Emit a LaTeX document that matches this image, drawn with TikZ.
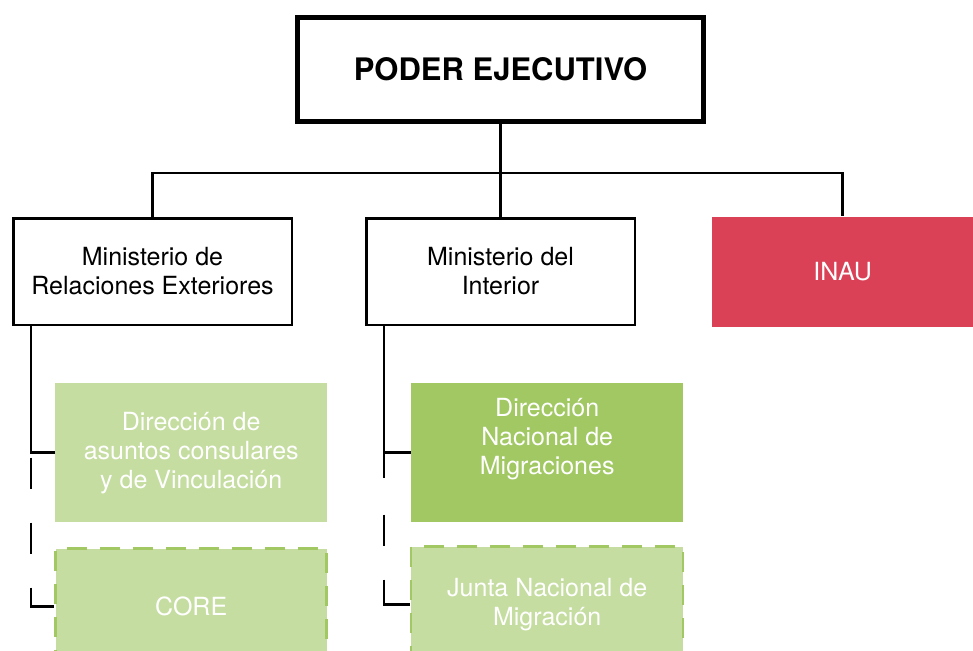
\documentclass[tikz,border=0pt]{standalone}
\usepackage{fontspec}
\setmainfont{TeX Gyre Heros}
\usepackage{tikz}
\usetikzlibrary{positioning}
\usepackage{xcolor}

\definecolor{inaured}{RGB}{218,64,86}
\definecolor{darkgreen}{RGB}{161,200,98}
\definecolor{lightgreen}{RGB}{197,221,160}

\tikzset{
    unit/.style={draw, line width=2.5pt, align=center, font=\fontsize{25}{29}\selectfont, minimum height=106.5pt, inner sep=0pt},
    subunit/.style={fill=lightgreen, text=white, align=center, font=\fontsize{25}{29}\selectfont, minimum width=272pt, minimum height=139pt, inner sep=0pt},
    planned/.style={subunit, draw=darkgreen, line width=2.5pt, dash pattern=on 20pt off 13pt, minimum height=116pt},
    link/.style={line width=2.8pt},
    dashedlink/.style={link, dash pattern=on 31pt off 34pt},
}

\begin{document}
\begin{tikzpicture}[x=1pt, y=1pt]
\path[clip] (0,0) rectangle (973,-650);

\node[draw, line width=5pt, minimum width=406pt, minimum height=104pt, font=\fontsize{31}{36}\selectfont\bfseries] (root) at (500.5,-69.5) {PODER EJECUTIVO};
\node[unit, minimum width=268.5pt, below=93pt of root] (interior) {Ministerio del\\Interior};
\node[unit, minimum width=278.5pt, left=72pt of interior] (exteriores) {Ministerio de\\Relaciones Exteriores};
\node[fill=inaured, text=white, minimum width=261pt, minimum height=110pt, font=\fontsize{25}{29}\selectfont, right=76pt of interior] (inau) {INAU};

\node[subunit, below right=57pt and 43pt of exteriores.south west] (consulares) {Dirección de\\asuntos consulares\\y de Vinculación};
\node[planned, minimum width=271pt, below=25pt of consulares] (core) {CORE};
\node[subunit, fill=darkgreen, below right=57pt and 46pt of interior.south west] (migraciones) {Dirección\\Nacional de\\Migraciones\\[4pt]};
\node[planned, below=23pt of migraciones] (junta) {Junta Nacional de\\Migración};

% top level
\coordinate (bus) at (500.5,-173);
\draw[link] (root.south) -- (bus);
\draw[link] (exteriores.north) -- (exteriores.north |- bus) -- (inau.north |- bus) -- (inau.north);
\draw[link] (interior.north) -- (interior.north |- bus);

% ministries
\path (exteriores.south west) ++(19pt,0) coordinate (exline);
\path (interior.south west) ++(19pt,0) coordinate (inline);
\draw[link] (exline) |- (consulares.west);
\draw[dashedlink] (exline |- consulares.west) ++(0,-5pt) -- (exline |- core.west);
\draw[link] (exline |- core.west) ++(0,14pt) |- (core.west);
\draw[link] (inline) -- ++(0,-152pt);
\draw[link] (inline |- migraciones.west) -- (migraciones.west);
\draw[dashedlink] (inline |- migraciones.west) ++(0,-62pt) -- (inline |- junta.west);
\draw[link] (inline |- junta.west) ++(0,12pt) |- (junta.west);
\end{tikzpicture}
\end{document}
